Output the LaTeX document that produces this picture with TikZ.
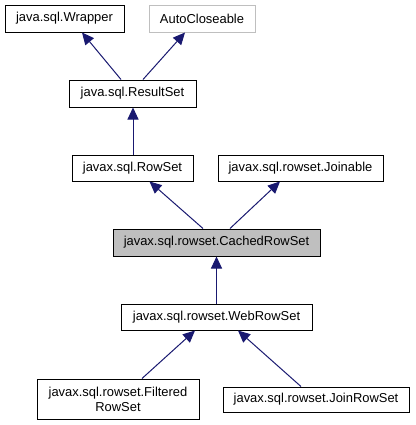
\documentclass[tikz,border=0pt]{standalone}
\usepackage{fontspec}
\setmainfont{Liberation Sans}
\usetikzlibrary{arrows.meta,calc}
\definecolor{edgec}{HTML}{191970}
\definecolor{grayb}{HTML}{BFBFBF}
\begin{document}
\begin{tikzpicture}[x=0.75pt,y=-0.75pt,
  box/.style={draw=black,line width=0.75pt,fill=white,inner sep=0pt,align=center,
    font=\fontsize{9.7}{11.2}\selectfont},
  arr/.style={draw=edgec,line width=0.75pt,{Triangle[length=9pt,width=8.25pt,fill=edgec]}-}]
\useasboundingbox (0,0) rectangle (415,425);
\node[box,minimum width=89.25pt,minimum height=20.25pt] (wrap) at (64.5,18.5) {java.sql.Wrapper};
\node[box,draw=grayb,minimum width=79.5pt,minimum height=20.25pt] (auto) at (202,18.5) {AutoCloseable};
\node[box,minimum width=95.25pt,minimum height=20.25pt] (rs) at (132.5,93.5) {java.sql.ResultSet};
\node[box,minimum width=90.75pt,minimum height=19.5pt] (rowset) at (132.5,168) {javax.sql.RowSet};
\node[box,minimum width=123.75pt,minimum height=19.5pt] (join) at (300.5,168) {javax.sql.rowset.Joinable};
\node[box,fill=grayb,minimum width=155.25pt,minimum height=20.25pt] (cached) at (216.5,242.5) {javax.sql.rowset.CachedRowSet};
\node[box,minimum width=143.25pt,minimum height=19.5pt] (web) at (216.5,317) {javax.sql.rowset.WebRowSet};
\node[box,minimum width=121.5pt,minimum height=30pt] (filt) at (118,399) {javax.sql.rowset.Filtered\\RowSet};
\node[box,minimum width=139.5pt,minimum height=18.75pt] (jrs) at (316,399.5) {javax.sql.rowset.JoinRowSet};
\draw[arr] ($(wrap.south)+(17.5,0)$) -- ($(rs.north)+(-11.5,0)$);
\draw[arr] ($(auto.south)+(-17,0)$) -- ($(rs.north)+(10.5,0)$);
\draw[arr] ($(rs.south)+(0.5,0)$) -- ($(rowset.north)+(0.5,0)$);
\draw[arr] ($(rowset.south)+(17,0)$) -- ($(cached.north)+(-13.5,0)$);
\draw[arr] ($(join.south)+(-20.5,0)$) -- ($(cached.north)+(13.5,0)$);
\draw[arr] (cached.south) -- (web.north);
\draw[arr] ($(web.south)+(-21.5,0)$) -- ($(filt.north)+(24,0)$);
\draw[arr] ($(web.south)+(21.5,0)$) -- ($(jrs.north)+(-15,0)$);
\end{tikzpicture}
\end{document}
